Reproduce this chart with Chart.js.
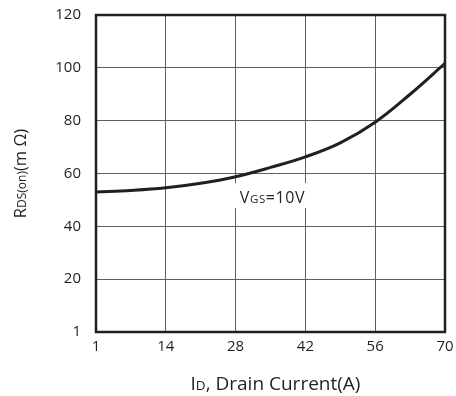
<!DOCTYPE html>
<html>
<head>
<meta charset="utf-8">
<script src="https://cdn.jsdelivr.net/npm/chart.js@4/dist/chart.umd.min.js"></script>
<style>
  html, body { margin: 0; padding: 0; background: #fff; }
  #wrap { width: 456px; height: 396px; }
</style>
</head>
<body>
<div id="wrap"><canvas id="c" width="456" height="396"></canvas></div>
<script>
// Drain current (A) and on-resistance (mΩ) at VGS = 10V
const drainCurrent = [0, 7, 14, 21, 28, 35, 42, 49, 56, 63, 70];
const rdsOn = [53.0, 53.6, 54.6, 56.3, 58.8, 62.3, 66.3, 71.6, 79.4, 90.0, 101.7];
const xTicks = [0, 14, 28, 42, 56, 70];
const yTicks = [0, 20, 40, 60, 80, 100, 120];
// the origin of both axes is labelled "1"
const originLabel = '1';

const INK = '#231f20';
const FONT = '"Open Sans", "Noto Sans", sans-serif';

// Text made of runs, some of them set smaller as subscripts
function runsWidth(ctx, runs, big, small) {
  let w = 0;
  for (const r of runs) {
    ctx.font = (r.sub ? small : big) + 'px ' + FONT;
    w += ctx.measureText(r.t).width;
  }
  return w;
}
function drawRuns(ctx, runs, x, y, big, small) {
  let cx = x;
  for (const r of runs) {
    ctx.font = (r.sub ? small : big) + 'px ' + FONT;
    ctx.fillText(r.t, cx, y);
    cx += ctx.measureText(r.t).width;
  }
}

const decorations = {
  id: 'decorations',
  afterDraw(chart) {
    const ctx = chart.ctx;
    const a = chart.chartArea;
    const xs = chart.scales.x, ys = chart.scales.y;
    ctx.save();

    // frame around the plot area
    ctx.strokeStyle = INK;
    ctx.lineWidth = 2.5;
    ctx.strokeRect(a.left, a.top, a.right - a.left, a.bottom - a.top);

    ctx.fillStyle = INK;
    ctx.textBaseline = 'alphabetic';

    // curve label on a white patch that hides the grid behind it
    ctx.letterSpacing = '0.6px';
    const lab = [{t: 'V'}, {t: 'GS', sub: true}, {t: '=10V'}];
    const lw = runsWidth(ctx, lab, 16, 11.5);
    const lx = xs.getPixelForValue(35.4) - lw / 2;
    const ly = ys.getPixelForValue(48.8);
    ctx.fillStyle = '#fff';
    ctx.fillRect(lx - 5, ly - 20, lw + 10, 25);
    ctx.fillStyle = INK;
    drawRuns(ctx, lab, lx, ly, 16, 11.5);
    ctx.letterSpacing = '0px';

    // x axis title
    const xt = [{t: 'I'}, {t: 'D', sub: true}, {t: ', Drain Current(A)'}];
    const xw = runsWidth(ctx, xt, 19, 13.5);
    drawRuns(ctx, xt, (a.left + a.right) / 2 + 5 - xw / 2, 390, 19, 13.5);

    // y axis title, rotated
    const yt = [{t: 'R'}, {t: 'DS(on)', sub: true}, {t: '(m Ω)'}];
    const yw = runsWidth(ctx, yt, 16.5, 12);
    ctx.translate(26, (a.top + a.bottom) / 2);
    ctx.rotate(-Math.PI / 2);
    drawRuns(ctx, yt, -yw / 2, 0, 16.5, 12);

    ctx.restore();
  }
};

new Chart(document.getElementById('c'), {
  type: 'line',
  data: {
    datasets: [{
      data: drainCurrent.map((x, i) => ({x, y: rdsOn[i]})),
      borderColor: INK,
      borderWidth: 3,
      pointRadius: 0,
      fill: false,
      tension: 0.4
    }]
  },
  options: {
    responsive: false,
    animation: false,
    devicePixelRatio: 1,
    layout: { padding: { top: 15, right: 11, left: 0, bottom: 0 } },
    plugins: { legend: { display: false }, tooltip: { enabled: false } },
    scales: {
      x: {
        type: 'linear',
        min: 0, max: 70,
        afterBuildTicks(s) { s.ticks = xTicks.map(v => ({value: v})); },
        afterFit(s) { s.height = 64; s.paddingLeft = 0; s.paddingRight = 0; },
        grid: { color: '#5e5e5e', lineWidth: 1, drawTicks: false },
        border: { display: false },
        ticks: {
          padding: 6,
          color: INK,
          font: { family: FONT, size: 15 },
          maxRotation: 0,
          callback: v => v === 0 ? originLabel : String(v)
        }
      },
      y: {
        type: 'linear',
        min: 0, max: 120,
        afterBuildTicks(s) { s.ticks = yTicks.map(v => ({value: v})); },
        afterFit(s) { s.width = 96; s.paddingTop = 0; s.paddingBottom = 0; },
        grid: { color: '#5e5e5e', lineWidth: 1, drawTicks: false },
        border: { display: false },
        ticks: {
          padding: 15,
          color: INK,
          font: { family: FONT, size: 15 },
          callback: v => v === 0 ? originLabel : String(v)
        }
      }
    }
  },
  plugins: [decorations]
});
</script>
</body>
</html>
